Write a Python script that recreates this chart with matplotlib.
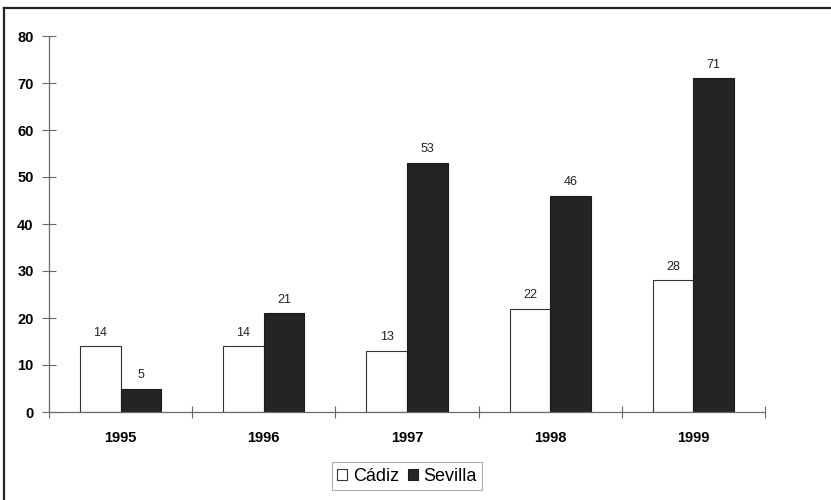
import numpy as np
import matplotlib.pyplot as plt
from matplotlib.lines import Line2D

years = ["1995", "1996", "1997", "1998", "1999"]
cadiz = [14, 14, 13, 22, 28]
sevilla = [5, 21, 53, 46, 71]

plt.rcParams["font.family"] = ["Liberation Sans", "DejaVu Sans"]

fig = plt.figure(figsize=(8.31, 5.0), dpi=100)
ax = fig.add_axes([49 / 831, 88 / 500, 716 / 831, 376 / 500])

x = np.arange(len(years))
w = 0.283
axis_col = "#6a6a6a"

ax.bar(x - w / 2, cadiz, w, color="white", edgecolor="#333333", linewidth=0.8, label="Cádiz")
ax.bar(x + w / 2, sevilla, w, color="#222522", edgecolor="#1a1a1a", linewidth=0.8, label="Sevilla")

for xi, v in zip(x, cadiz):
    ax.text(xi - w / 2, v + 1.6, str(v), ha="center", va="bottom", fontsize=9, color="#222222")
for xi, v in zip(x, sevilla):
    ax.text(xi + w / 2, v + 1.6, str(v), ha="center", va="bottom", fontsize=9, color="#222222")

ax.set_xlim(-0.5, len(years) - 0.5)
ax.set_ylim(0, 80)
ax.set_yticks(range(0, 81, 10))
ax.set_xticks(x)
ax.set_xticklabels(years, fontweight="bold", fontsize=10.5)
for lab in ax.get_yticklabels():
    lab.set_fontweight("bold")
    lab.set_fontsize(10.5)

# category separators on the x axis
ax.set_xticks(np.arange(-0.5, len(years) + 0.5, 1), minor=True)
ax.tick_params(axis="x", which="major", length=0, pad=14)
ax.tick_params(axis="x", which="minor", direction="inout", length=8, width=0.8, color=axis_col)
ax.tick_params(axis="y", direction="inout", length=10, width=0.8, color=axis_col, pad=6)

for side in ["top", "right"]:
    ax.spines[side].set_visible(False)
for side in ["left", "bottom"]:
    ax.spines[side].set_color(axis_col)
    ax.spines[side].set_linewidth(0.9)

leg = ax.legend(loc="upper center", bbox_to_anchor=(0.5, -0.11), ncol=2, frameon=True,
                fancybox=False, edgecolor="#999999", fontsize=13, handlelength=0.55,
                handleheight=0.55, handletextpad=0.3, columnspacing=0.5, borderpad=0.3)
leg.get_frame().set_linewidth(0.8)

# outer frame
fig.add_artist(Line2D([4 / 831, 4 / 831], [0, 1 - 8 / 500], transform=fig.transFigure,
                      color="#222222", linewidth=1.6))
fig.add_artist(Line2D([4 / 831, 1], [1 - 8 / 500, 1 - 8 / 500], transform=fig.transFigure,
                      color="#222222", linewidth=1.6))

fig.savefig("out.png", dpi=100)
plt.close(fig)
